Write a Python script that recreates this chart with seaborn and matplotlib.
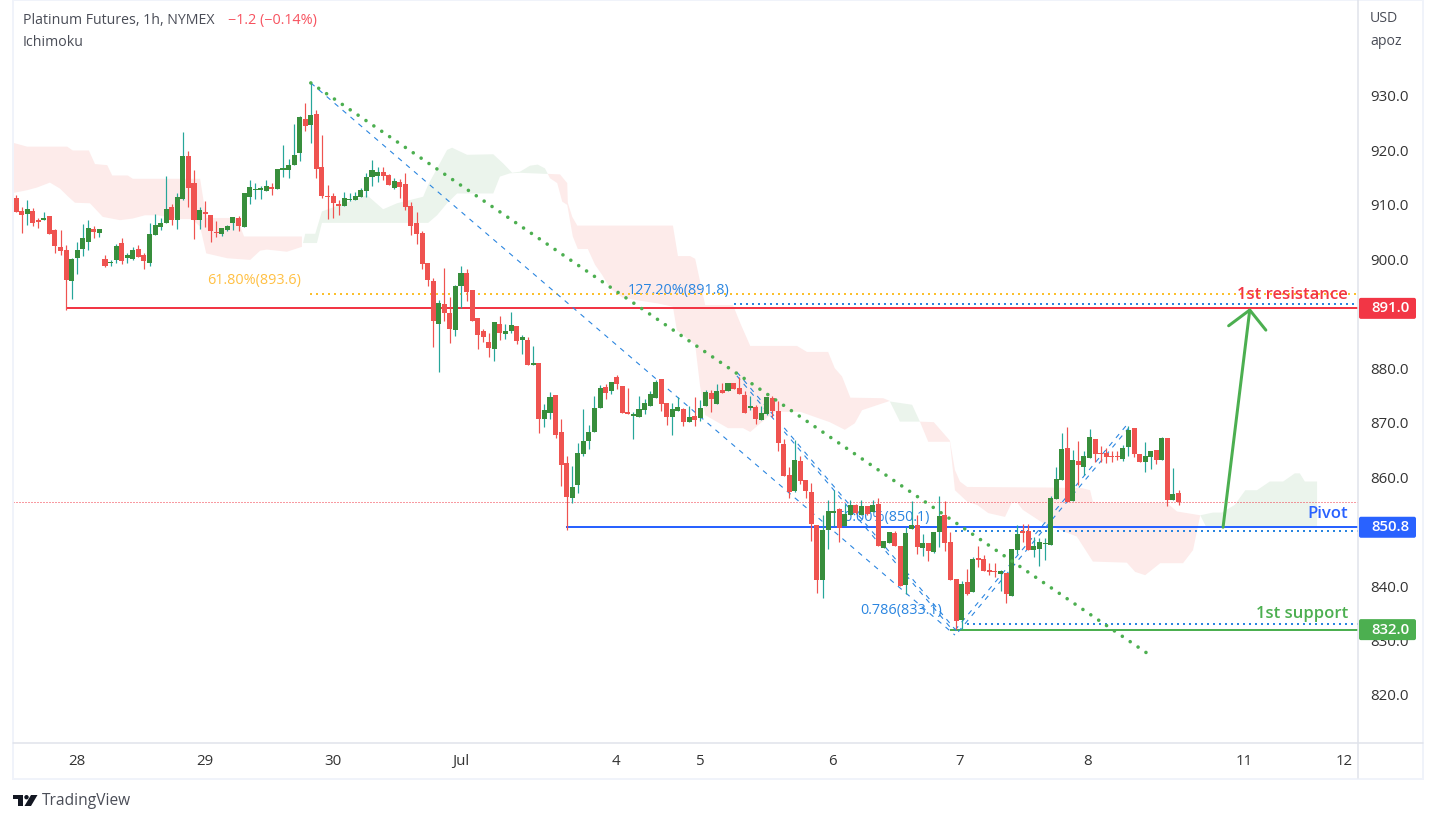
import numpy as np
import matplotlib
matplotlib.use('Agg')
import matplotlib.pyplot as plt
from matplotlib.patches import FancyBboxPatch, Rectangle, Polygon, Circle
import seaborn as sns

W, H = 1436, 822
PLOT_LEFT, PLOT_RIGHT, PLOT_BOTTOM = 13, 1358, 743

opens = [911.3,908.9,908.3,908.9,907.2,907.2,908.0,905.4,902.3,901.7,
         896.0,900.3,901.9,903.2,905.6,904.8,900.1,899.3,899.9,903.0,
         900.3,900.1,901.9,900.8,899.3,904.5,905.9,906.7,909.6,907.2,
         911.1,919.0,914.0,907.2,908.7,908.1,905.0,904.7,905.4,906.7,
         907.6,905.9,911.5,912.7,912.7,912.6,913.3,912.9,916.4,916.4,
         917.3,919.5,925.8,924.7,926.7,917.0,911.6,911.6,910.2,909.8,
         910.9,910.9,911.4,912.5,915.1,915.3,916.0,915.5,913.1,914.2,
         913.8,909.8,906.7,904.8,899.3,896.0,888.1,891.8,890.1,887.0,
         895.1,897.5,894.4,889.2,886.8,884.8,883.5,888.1,886.3,886.8,
         887.8,885.2,885.2,880.6,881.0,870.7,871.8,875.1,868.3,862.6,
         856.2,858.6,864.3,866.6,868.3,872.7,876.6,875.8,878.4,876.7,
         872.0,871.2,871.1,872.3,873.1,874.5,878.0,873.6,871.1,872.2,
         872.5,870.1,871.2,870.9,873.1,875.5,873.4,876.0,875.8,877.3,
         876.4,875.1,872.7,872.9,870.5,871.6,874.5,872.2,866.1,860.4,
         857.5,863.0,859.5,857.3,851.2,841.1,850.3,853.4,854.2,851.0,
         853.1,854.9,853.1,854.7,853.6,855.1,847.0,847.9,849.7,847.4,
         840.2,850.5,851.2,847.0,847.9,846.3,849.9,853.1,848.1,841.3,
         833.8,840.8,838.9,845.2,845.0,843.0,842.8,842.3,842.4,838.2,
         846.6,850.1,850.1,846.6,846.8,847.7,847.5,856.0,859.5,865.4,
         855.6,863.0,861.9,863.5,867.0,864.4,864.4,863.9,863.9,863.3,
         865.5,869.0,864.3,862.8,863.7,865.0,863.1,867.2,855.8,857.1]
closes = [908.7,908.2,909.2,906.7,906.9,907.6,904.7,902.5,901.5,896.2,
          900.1,901.7,903.9,905.8,905.0,905.6,898.8,899.5,902.5,899.7,
          900.8,901.7,900.4,899.7,904.7,906.3,906.7,909.2,907.2,911.5,
          919.0,913.1,907.2,909.1,908.3,905.2,904.8,905.8,906.1,907.8,
          906.1,912.2,913.3,912.9,913.1,913.5,912.9,916.6,916.8,917.3,
          919.2,926.1,924.5,926.5,916.6,911.6,911.5,910.4,909.8,911.3,
          911.1,911.6,912.7,915.1,916.4,916.0,915.3,913.7,914.4,913.3,
          909.6,906.1,904.7,899.1,896.2,888.7,892.0,890.1,887.2,895.1,
          897.5,894.0,888.7,886.1,885.7,883.7,888.5,886.5,886.8,887.9,
          885.0,885.7,880.6,881.0,870.7,872.3,874.7,867.7,862.2,856.4,
          858.2,864.4,866.6,868.3,872.7,876.4,875.5,877.5,877.1,871.8,
          871.6,871.6,872.5,873.6,875.3,877.5,873.4,871.1,872.5,872.9,
          870.1,871.1,870.5,872.7,875.6,874.4,875.8,875.5,877.3,876.2,
          875.3,871.8,873.1,870.7,871.8,874.7,872.2,866.3,860.2,857.3,
          863.2,859.3,857.5,851.4,841.1,850.3,853.8,853.8,850.7,853.2,
          854.9,853.4,854.7,853.2,854.9,847.4,848.3,849.9,847.4,840.0,
          849.7,851.2,847.2,847.9,846.4,849.9,852.9,847.9,841.1,833.6,
          840.4,838.5,845.0,844.8,842.8,842.6,842.6,842.8,838.5,846.8,
          849.6,849.7,846.6,847.4,848.1,847.9,856.2,859.7,865.2,855.4,
          863.2,862.2,863.9,867.4,864.3,864.3,863.7,863.8,863.8,865.4,
          868.7,864.3,862.8,863.9,864.8,863.1,867.2,855.8,856.9,855.4]
highs = [911.9,909.6,910.9,909.4,907.6,908.7,908.0,905.6,905.4,902.6,
         900.2,903.2,906.5,907.2,906.1,905.6,900.8,899.9,902.9,903.9,
         901.2,902.3,902.6,901.2,906.7,908.3,907.6,915.3,910.2,912.2,
         923.4,919.9,916.4,909.6,910.7,908.1,907.0,905.8,906.3,907.8,
         908.0,912.2,914.6,914.0,913.5,914.6,914.0,916.6,921.0,918.4,
         924.9,926.3,928.7,932.5,927.4,922.8,913.7,912.2,910.9,912.4,
         912.2,912.4,913.1,915.9,918.2,917.0,917.0,915.7,914.9,914.8,
         915.9,910.5,908.7,905.2,899.3,896.6,892.5,898.4,893.1,895.3,
         898.8,898.2,894.4,889.2,887.2,886.5,888.5,889.6,888.1,890.3,
         887.8,886.1,885.7,884.1,881.0,873.4,875.6,875.1,870.7,863.9,
         862.1,866.3,872.5,869.6,874.9,876.9,877.1,877.5,878.8,876.7,
         876.4,872.0,874.9,874.4,875.8,877.8,878.0,873.6,873.6,874.7,
         872.7,873.1,874.7,874.2,876.0,876.0,877.1,877.3,877.3,877.3,
         878.4,875.8,874.9,873.3,873.1,874.7,874.9,874.0,867.0,861.9,
         866.8,863.9,859.5,858.9,851.2,853.1,855.8,857.6,854.3,855.1,
         855.8,855.1,855.8,854.7,855.8,856.2,848.3,849.9,850.1,847.4,
         850.9,855.6,853.1,849.6,847.9,849.9,856.5,855.6,849.9,841.3,
         840.9,843.1,845.3,847.4,845.7,844.2,844.2,843.0,842.4,846.8,
         851.2,851.4,851.4,849.0,848.8,848.8,856.5,861.9,868.1,869.2,
         865.0,866.6,864.8,868.8,867.0,865.7,865.4,864.8,864.8,865.9,
         869.4,869.0,864.3,866.5,864.8,865.0,867.4,867.2,861.7,857.6]
lows = [908.7,904.8,906.3,906.2,905.8,907.2,904.7,901.2,900.8,890.7,
        892.7,897.3,900.6,901.7,903.9,904.1,898.6,898.8,899.3,899.1,
        899.3,899.9,900.4,898.2,898.8,904.5,905.4,906.7,906.3,905.6,
        910.9,909.6,903.7,905.6,905.9,903.2,904.1,904.3,905.2,905.4,
        905.2,905.9,910.2,911.1,911.1,912.6,911.8,912.9,915.1,914.9,
        917.3,918.1,923.6,921.4,914.9,911.3,907.4,907.6,908.1,909.8,
        910.7,910.9,911.4,911.4,913.5,914.2,914.6,913.7,912.9,911.3,
        909.1,904.5,902.8,898.2,895.1,883.9,879.3,888.7,884.6,885.9,
        891.0,892.4,888.7,883.5,884.8,882.1,881.3,885.2,885.4,886.5,
        884.5,882.6,880.6,880.6,868.1,869.2,870.7,867.2,858.4,850.3,
        855.3,857.1,863.9,865.2,868.3,872.7,874.4,875.3,876.2,871.8,
        871.6,867.0,871.1,871.6,873.1,874.5,872.2,869.6,867.7,872.2,
        869.4,870.1,869.4,870.3,873.1,872.0,873.4,875.5,875.8,876.2,
        875.3,871.8,872.3,869.8,870.5,871.4,871.1,864.8,860.2,856.2,
        857.3,858.8,856.2,848.3,838.7,837.8,846.8,851.0,848.1,851.0,
        853.1,853.3,853.1,853.1,853.6,847.4,847.0,847.9,847.4,840.0,
        838.5,850.5,845.9,845.5,844.6,846.1,847.2,846.4,841.1,832.1,
        832.1,838.4,838.9,843.5,842.8,842.0,841.7,839.1,836.9,838.2,
        845.9,848.1,846.6,845.3,843.7,844.8,847.5,856.0,859.5,855.4,
        855.6,858.6,860.4,863.5,862.8,862.8,862.6,862.8,863.1,863.0,
        863.9,863.7,862.8,860.9,861.5,862.4,863.1,854.7,855.8,854.9]

# ichimoku cloud outlines, bar number and price, one pair per twist of the cloud
red1_top_bars = [0.5,3,10.2,11.2,14.1,15.2,17.4,18.3,21.1,22,34.1,35.2,40.7,42,52.4]
red1_top = [921.4,920.7,920.7,920.0,920.0,917.5,917.3,915.4,915.4,914.8,914.8,907.6,907.6,904.2,904.2]
red1_low_bars = [0.5,3,4.8,7.1,8.9,10.4,11.6,14.3,16.6,19.7,22,24.2,26.4,30.5,32.6,34.1,35.2,39,43.1,44.9,46.1,49.7,52.4]
red1_low = [912.2,912.7,913.2,914.1,913.0,911.5,910.4,910.3,907.8,907.2,907.5,908.1,908.1,907.4,907.4,906.0,901.1,900.2,899.9,901.6,901.8,901.4,902.3]

green1_top_bars = [52.6,53,54.8,56,64.1,67,69.5,74.2,75.1,76.7,78.5,79.4,82.1,86.8,88.6,90.2,91.6,93.4,94.8,96.1,96.6]
green1_top = [903.0,904.7,904.7,908.8,911.8,909.2,910.3,911.5,913.7,916.7,920.1,920.5,919.2,919.3,917.6,915.9,916.1,917.2,917.4,916.7,915.7]
green1_low_bars = [52.6,55.1,56,75.1,76.7,78.5,80.3,86.8,88,89.8,91.6,96.1,96.6]
green1_low = [903.0,903.0,906.7,906.7,908.1,910.3,912.1,912.1,915.2,915.8,915.9,915.7,915.7]

red2_top_bars = [96.6,98.8,100.1,100.2,101,101.9,119.1,120,122.2,123.1,124.9,129.9,131.2,133,141.4,143.2,147,148.2,149.5,151,156.9,158.1]
red2_top = [915.7,915.6,914.0,910.4,907.8,906.2,906.2,900.6,900.6,900.1,891.6,891.6,888.3,884.1,884.1,883.0,883.0,880.0,878.5,874.6,874.5,874.0]
red2_low_bars = [96.6,97,98.3,99.2,100.1,101.1,102,103.8,105.1,106.4,107.8,110.1,116.4,119.1,119.8,123.1,124,124.9,129,131.7,133,136,137.5,142,147.3,150,151.8,153.1,156.9,158.1]
red2_low = [915.7,914.9,914.0,910.6,910.0,904.2,901.9,901.9,899.0,897.1,894.7,892.9,891.9,891.3,887.0,884.3,876.6,871.4,869.0,869.0,868.3,870.9,872.0,872.0,870.1,868.7,869.9,872.3,873.6,874.0]

green2_top_bars = [158.1,162.1,163.5]
green2_top = [873.9,873.3,870.2]
green2_low_bars = [158.1,159.9,163.5]
green2_low = [873.9,870.2,870.2]

red3_top_bars = [163.5,166,168.9,169.8,170.7,172,186.4,192.6,194.1,194.6,195.9,207.9,209.7,213.9]
red3_top = [870.2,870.1,866.7,861.3,859.2,858.2,858.1,858.0,857.6,855.5,855.3,855.3,853.7,853.0]
red3_low_bars = [163.5,165,168.9,169.8,172,173.8,175.8,178.8,180,181,182,185.6,188.7,191.7,194.6,200.7,202.2,204,206.7,210.8,212.6,213.9]
red3_low = [870.2,866.5,866.5,857.6,855.5,854.9,853.4,852.7,855.3,855.3,854.0,851.6,850.3,849.1,844.5,844.3,842.6,842.0,844.2,844.2,846.6,853.0]

green3_top_bars = [213.9,216.2,217.8,220.1,222,224.1,226.4,228.8,230.9,231.8,232.7,234.9]
green3_top = [853.0,853.5,853.5,854.9,857.6,857.6,859.2,859.2,860.7,860.7,859.2,859.2]
green3_low_bars = [213.9,214.9,234.9]
green3_low = [853.0,851.0,851.0]

resistance, pivot, support = 891.0, 850.8, 832.0
last_price = 855.5
# 850 and 890 sit behind the level tags, so they carry no label
price_ticks = [820,830,840,860,870,880,900,910,920,930]
day_ticks = [12,35,58,81,108.9,124,147.7,170.7,193.7,221.8,239.8]
day_labels = ['28','29','30','Jul','4','5','6','7','8','11','12']

COL_UP, COL_UP_WICK = '#388e3c', '#26a69a'
COL_DOWN = '#ef5350'
COL_RED, COL_BLUE, COL_GREEN = '#f23645', '#2962ff', '#4caf50'
COL_FIB = '#2a85e0'
COL_GOLD = '#fbc02d'
COL_TEXT = '#4a4d57'


def dots(width_px, gap_px):
    # dash pattern is in units of line width
    return (0, (0.01, gap_px / width_px))


def px(width_px):
    return width_px * 72 / 100


def draw_line(ax, xs, ys, color, width_px, style='-', cap='butt', z=3):
    sns.lineplot(x=xs, y=ys, ax=ax, color=color, linewidth=px(width_px), linestyle=style,
                 estimator=None, sort=False, legend=False, zorder=z,
                 dash_capstyle=cap, solid_capstyle=cap)


def fill_cloud(ax, top_bars, top, low_bars, low, color):
    ax.fill(list(top_bars) + list(low_bars)[::-1], list(top) + list(low)[::-1],
            color=color, linewidth=0, zorder=1)


sns.set_theme(style='white')
plt.rcParams['font.family'] = ['Open Sans', 'DejaVu Sans']

fig = plt.figure(figsize=(W / 100, H / 100), dpi=100, facecolor='white')
ax = fig.add_axes([PLOT_LEFT / W, 1 - PLOT_BOTTOM / H, (PLOT_RIGHT - PLOT_LEFT) / W, PLOT_BOTTOM / H])

price_top, price_bottom = 947.63, 811.18
bar_left, bar_right = 0.46, 242.26
ax.set_xlim(bar_left, bar_right)
ax.set_ylim(price_bottom, price_top)

# cloud
fill_cloud(ax, red1_top_bars, red1_top, red1_low_bars, red1_low, '#fdebea')
fill_cloud(ax, green1_top_bars, green1_top, green1_low_bars, green1_low, '#ebf4ec')
fill_cloud(ax, red2_top_bars, red2_top, red2_low_bars, red2_low, '#fdebea')
fill_cloud(ax, green2_top_bars, green2_top, green2_low_bars, green2_low, '#ebf4ec')
fill_cloud(ax, red3_top_bars, red3_top, red3_low_bars, red3_low, '#fdebea')
fill_cloud(ax, green3_top_bars, green3_top, green3_low_bars, green3_low, '#ebf4ec')

# last price and the fib levels
draw_line(ax, [bar_left, bar_right], [last_price, last_price], COL_RED, 1, (0, (1, 2)), z=2)
draw_line(ax, [53.8, bar_right], [893.6, 893.6], COL_GOLD, 2, (0, (1, 2)))
draw_line(ax, [130, bar_right], [891.8, 891.8], COL_FIB, 2, (0, (1, 2)))
draw_line(ax, [169.8, bar_right], [850.1, 850.1], COL_FIB, 2, (0, (1, 2)))
draw_line(ax, [172, bar_right], [833.1, 833.1], COL_FIB, 2, (0, (1, 2)))

# levels
draw_line(ax, [10, bar_right], [resistance, resistance], COL_RED, 2)
draw_line(ax, [99.9, bar_right], [pivot, pivot], COL_BLUE, 2)
draw_line(ax, [168.9, bar_right], [support, support], COL_GREEN, 2)

# fib channels
dash = (0, (4.5, 5))
draw_line(ax, [54.0, 169.8], [932.4, 831.0], COL_FIB, 1.1, dash)
draw_line(ax, [130.6, 170.2], [879.3, 831.6], COL_FIB, 1.1, dash)
draw_line(ax, [130.6, 168.9], [878.6, 832.5], COL_FIB, 1.1, dash)
draw_line(ax, [169.8, 200.7], [831.9, 869.6], COL_FIB, 1.1, dash)
draw_line(ax, [170.4, 201.0], [831.6, 869.0], COL_FIB, 1.1, dash)

ax.text(35.3, 896.1, '61.80%(893.6)', color='#ffc043', fontsize=10.4, va='center', zorder=2)
ax.text(111, 894.3, '127.20%(891.8)', color=COL_FIB, fontsize=10.4, va='center', zorder=2)
ax.text(148.4, 852.6, '50.00%(850.1)', color=COL_FIB, fontsize=10.4, va='center', zorder=2)
ax.text(152.7, 835.5, '0.786(833.1)', color=COL_FIB, fontsize=10.4, va='center', zorder=2)

# candles
bars = np.arange(1, len(opens) + 1)
o, h, l, c = map(np.array, (opens, highs, lows, closes))
up = c >= o
ax.vlines(bars[up], l[up], h[up], color=COL_UP_WICK, linewidth=px(1.2), zorder=4)
ax.vlines(bars[~up], l[~up], h[~up], color=COL_DOWN, linewidth=px(1.2), zorder=4)
body = np.maximum(np.abs(c - o), 0.2)
ax.bar(bars[up], body[up], bottom=o[up], width=0.9, color=COL_UP, linewidth=0, zorder=5)
ax.bar(bars[~up], -body[~up], bottom=o[~up], width=0.9, color=COL_DOWN, linewidth=0, zorder=5)

# trend line and arrow go over the candles
draw_line(ax, [54.0, 204.3], [932.4, 827.7], COL_GREEN, 3.6, dots(3.6, 9.5), cap='round', z=6)
draw_line(ax, [218, 222.8], [850.8, 890.7], COL_GREEN, 3, cap='round', z=6)
draw_line(ax, [219, 222.8, 225.7], [887.8, 890.7, 887.0], COL_GREEN, 3, cap='round', z=6)

ax.text(240.5, 893.5, '1st resistance', color=COL_RED, fontsize=12, fontweight='semibold', ha='right', va='center', zorder=7)
ax.text(240.5, 853.2, 'Pivot', color=COL_BLUE, fontsize=12, fontweight='semibold', ha='right', va='center', zorder=7)
ax.text(240.5, 834.9, '1st support', color=COL_GREEN, fontsize=12, fontweight='semibold', ha='right', va='center', zorder=7)

# axes
ax.yaxis.tick_right()
ax.set_yticks(price_ticks)
ax.set_yticklabels(['%.1f' % t for t in price_ticks])
ax.set_xticks(day_ticks)
ax.set_xticklabels(day_labels)
ax.tick_params(axis='y', length=0, pad=9, labelsize=10.8, labelcolor='#333333')
ax.tick_params(axis='x', length=0, pad=8, labelsize=10.8, labelcolor='#333333')
ax.grid(False)
for s in ax.spines.values():
    s.set_visible(False)

# page furniture in image pixels
page = fig.add_axes([0, 0, 1, 1], facecolor='none')
page.set_xlim(0, W)
page.set_ylim(H, 0)
page.axis('off')
page.add_patch(Rectangle((13, 0.5), 1410, 778, fill=False, edgecolor='#f0f3fa', linewidth=px(2)))
page.plot([PLOT_RIGHT, PLOT_RIGHT], [0, 778], color='#e0e3eb', linewidth=px(1.5))
page.plot([13, 1423], [PLOT_BOTTOM, PLOT_BOTTOM], color='#e0e3eb', linewidth=px(1.5))

for level, colour in [(resistance, COL_RED), (pivot, COL_BLUE), (support, COL_GREEN)]:
    y = (price_top - level) / (price_top - price_bottom) * PLOT_BOTTOM
    page.add_patch(FancyBboxPatch((PLOT_RIGHT + 1, y - 10.5), 57, 21, boxstyle='round,pad=0,rounding_size=2',
                                  facecolor=colour, edgecolor='none', zorder=3))
    page.text(1371, y, '%.1f' % level, color='white', fontsize=10.8, fontweight='semibold', va='center', zorder=4)

page.text(23, 20.5, 'Platinum Futures, 1h, NYMEX', color=COL_TEXT, fontsize=10.2, va='center')
page.text(228, 20.5, '\u22121.2 (\u22120.14%)', color='#f7525f', fontsize=10.4, va='center')
page.text(23, 42.5, 'Ichimoku', color=COL_TEXT, fontsize=10.2, va='center')
page.text(1370, 18.5, 'USD', color=COL_TEXT, fontsize=10.2, va='center')
page.text(1370, 41.5, 'apoz', color=COL_TEXT, fontsize=10.2, va='center')

# TradingView mark
logo = '#131722'
page.add_patch(Polygon([(13, 795), (23, 795), (23, 806), (18, 806), (18, 799), (13, 799)], facecolor=logo, edgecolor='none'))
page.add_patch(Circle((26.5, 797.2), 2.2, facecolor=logo, edgecolor='none'))
page.add_patch(Polygon([(31, 795), (37.5, 795), (31, 806), (24.5, 806)], facecolor=logo, edgecolor='none'))
page.text(42, 801, 'TradingView', color='#4a4d57', fontsize=11.2, va='center')

fig.savefig('out.png', dpi=100)
